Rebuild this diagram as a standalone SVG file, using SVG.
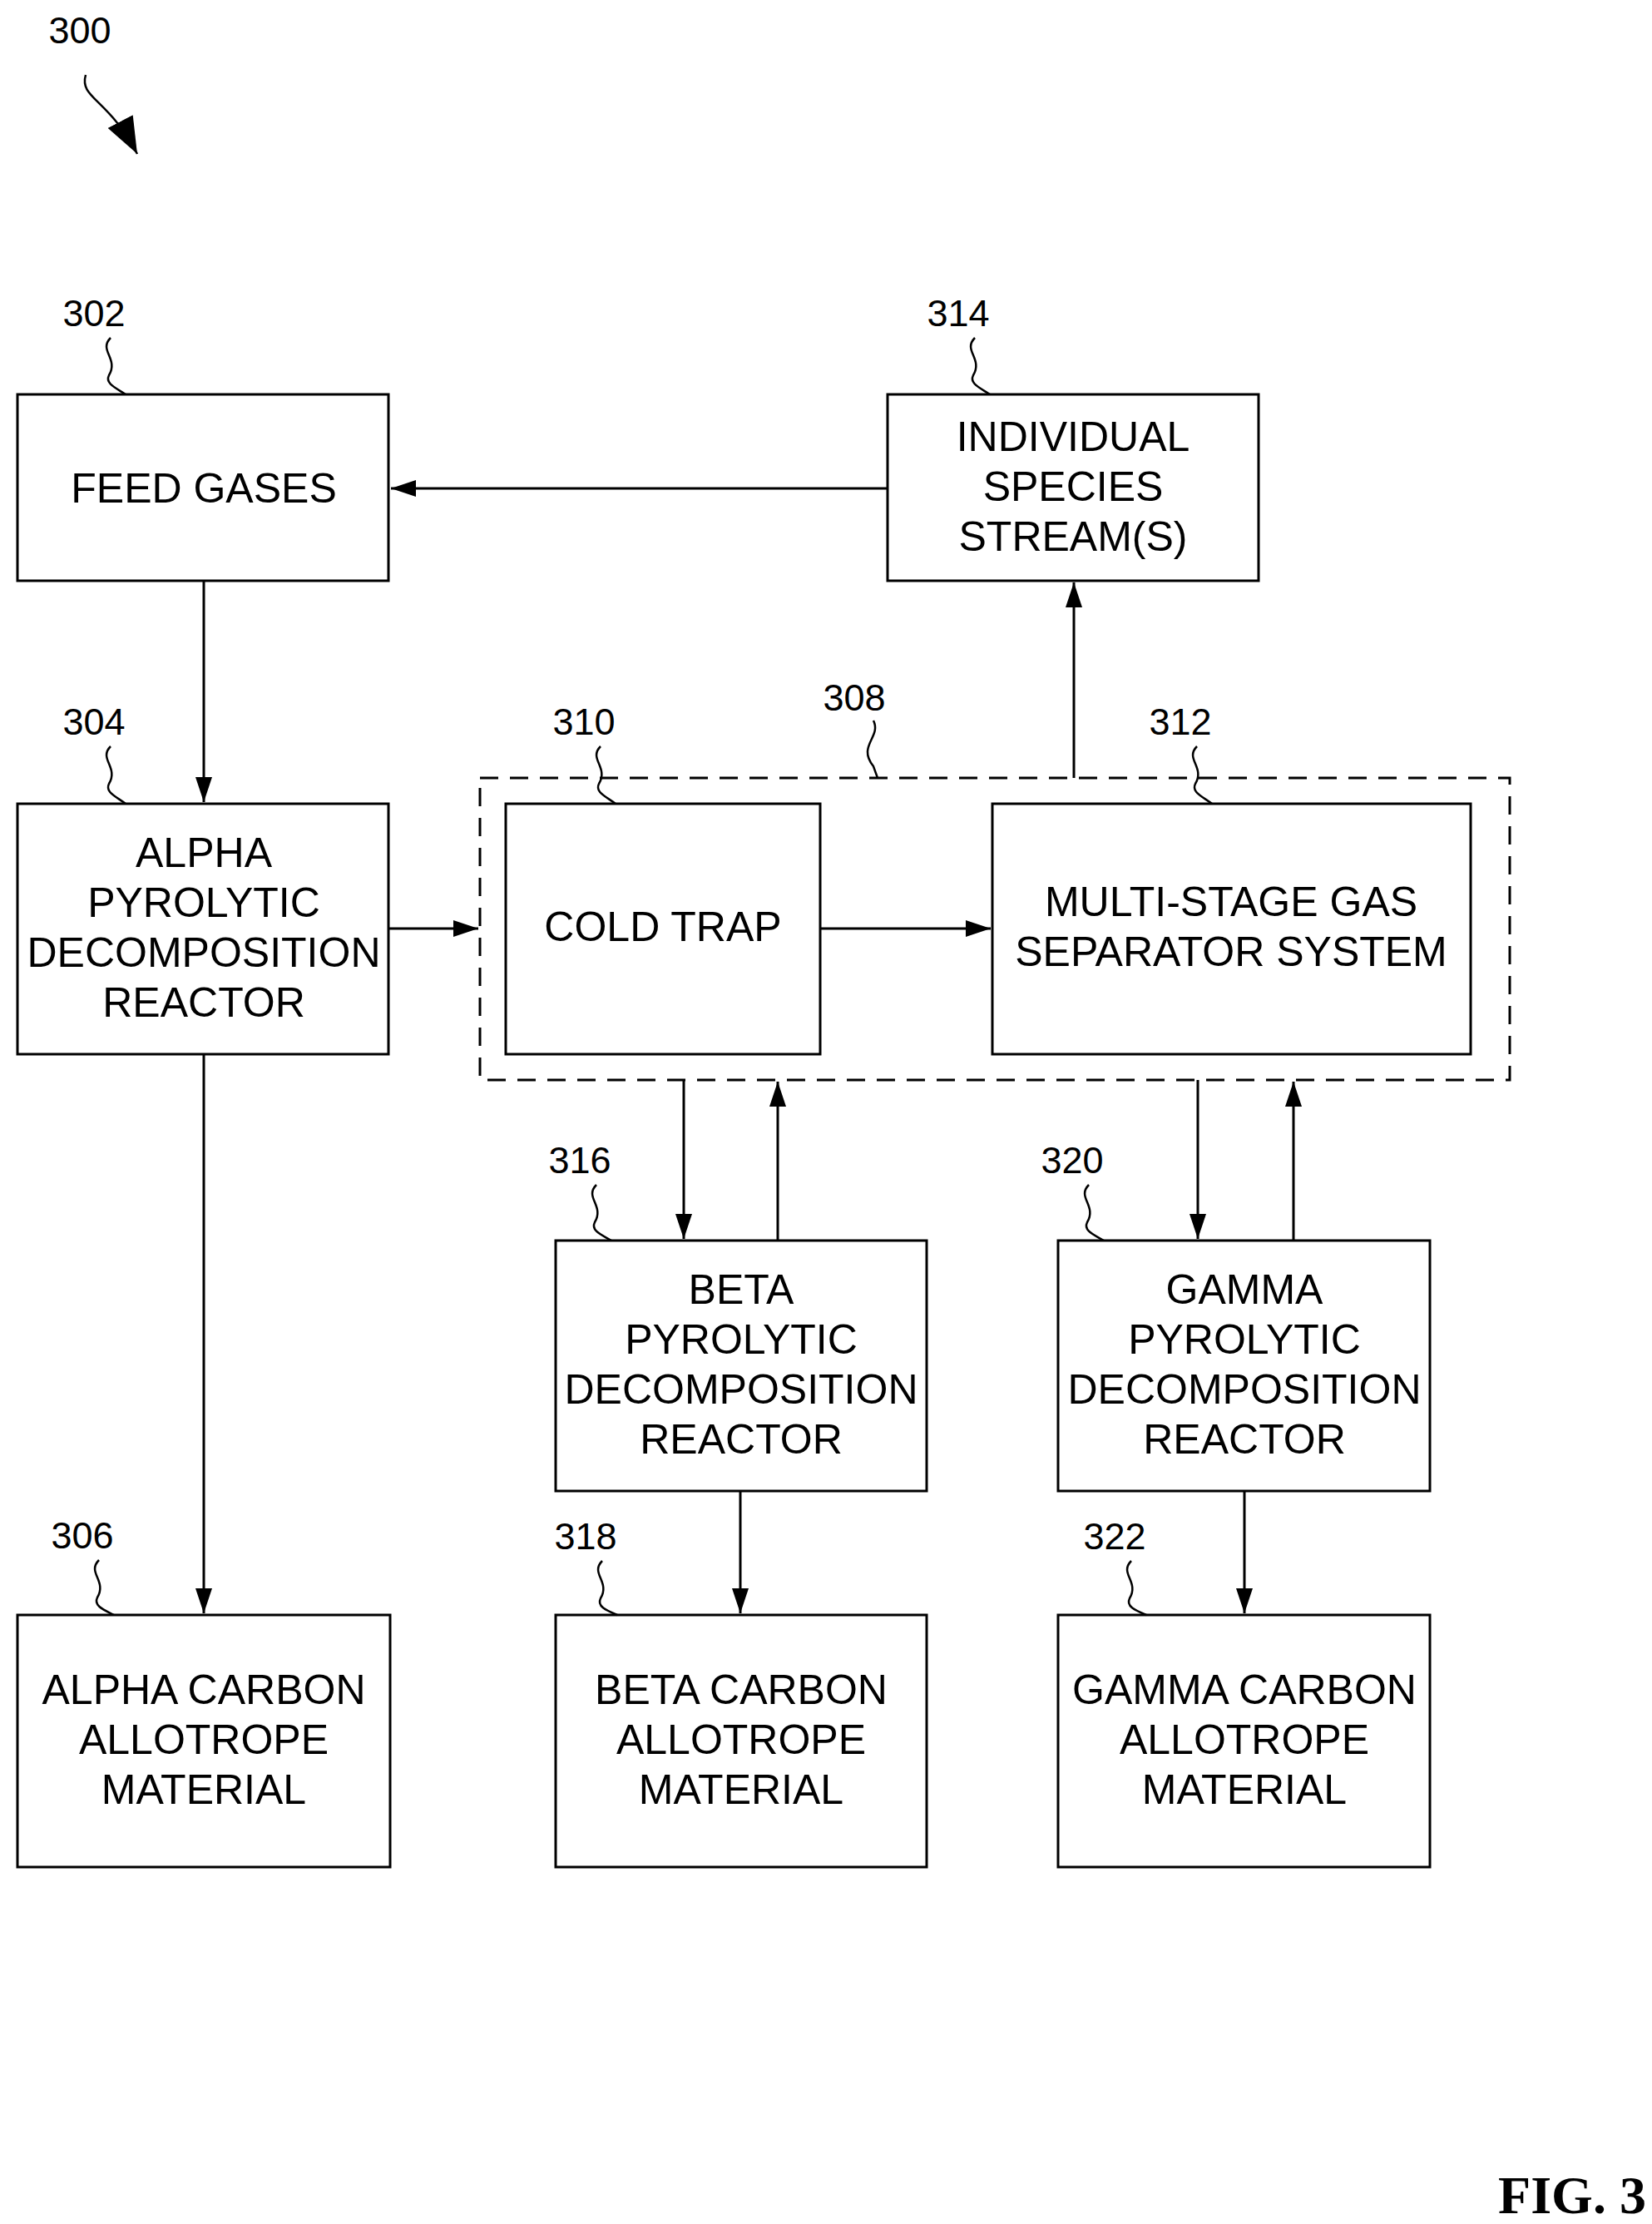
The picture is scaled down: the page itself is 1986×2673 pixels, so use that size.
<svg xmlns="http://www.w3.org/2000/svg" width="1986" height="2673" viewBox="0 0 1986 2673">
<style>
rect.b{fill:#fff;stroke:#000;stroke-width:3}
text{font-family:"Liberation Sans",Arial,sans-serif;font-size:50px;text-anchor:middle;fill:#000}
text.n{font-size:45px}
.c line,.c path{stroke:#000;stroke-width:3;fill:none}
.l{stroke:#000;stroke-width:2.5;fill:none}
</style>
<defs><marker id="ah" markerWidth="30" markerHeight="20" refX="30" refY="10" orient="auto" markerUnits="userSpaceOnUse" viewBox="0 0 30 20"><path d="M0,0L30,10L0,20z" fill="#000"/></marker>
<marker id="big" markerWidth="44" markerHeight="34" refX="44" refY="17" orient="auto" markerUnits="userSpaceOnUse" viewBox="0 0 44 34"><path d="M0,0L44,17L0,34z" fill="#000"/></marker></defs>
<rect width="1986" height="2673" fill="#fff"/>
<g id="fig"><text x="96" y="52" class="n">300</text><path class="l" d="M103,90 C95,118 130,118 165,185" marker-end="url(#big)"/>
<text x="1890" y="2660" style="font-family:'Liberation Serif',serif;font-weight:bold;font-size:64px">FIG. 3</text></g>
<g id="n302"><rect class="b" x="21" y="474" width="446" height="224"/><text x="245" y="604">FEED GASES</text><text class="n" x="113" y="392">302</text><path class="l" d="M133,406 c-15,15 10,25 -2,45 c-5,10 8,15 20,23"/></g>
<g id="n314"><rect class="b" x="1067" y="474" width="446" height="224"/><text x="1290" y="542">INDIVIDUAL</text><text x="1290" y="602">SPECIES</text><text x="1290" y="662">STREAM(S)</text><text class="n" x="1152" y="392">314</text><path class="l" d="M1172,406 c-15,15 10,25 -2,45 c-5,10 8,15 20,23"/></g>
<g id="n304"><rect class="b" x="21" y="966" width="446" height="301"/><text x="245" y="1042">ALPHA</text><text x="245" y="1102">PYROLYTIC</text><text x="245" y="1162">DECOMPOSITION</text><text x="245" y="1222">REACTOR</text><text class="n" x="113" y="883">304</text><path class="l" d="M133,897 c-15,15 10,25 -2,45 c-5,10 8,15 20,24"/></g>
<g id="n308"><rect x="577" y="935" width="1238" height="363" fill="none" stroke="#000" stroke-width="3" stroke-dasharray="22,14"/><text class="n" x="1027" y="854">308</text><path class="l" d="M1050,866 c10,20 -20,30 0,55 l5,14"/></g>
<g id="n310"><rect class="b" x="608" y="966" width="378" height="301"/><text x="797" y="1131">COLD TRAP</text><text class="n" x="702" y="883">310</text><path class="l" d="M722,897 c-15,15 10,25 -2,45 c-5,10 8,15 20,24"/></g>
<g id="n312"><rect class="b" x="1193" y="966" width="575" height="301"/><text x="1480" y="1101">MULTI-STAGE GAS</text><text x="1480" y="1161">SEPARATOR SYSTEM</text><text class="n" x="1419" y="883">312</text><path class="l" d="M1439,897 c-15,15 10,25 -2,45 c-5,10 8,15 20,24"/></g>
<g id="n316"><rect class="b" x="668" y="1491" width="446" height="301"/><text x="891" y="1567">BETA</text><text x="891" y="1627">PYROLYTIC</text><text x="891" y="1687">DECOMPOSITION</text><text x="891" y="1747">REACTOR</text><text class="n" x="697" y="1410">316</text><path class="l" d="M717,1424 c-15,15 10,25 -2,45 c-5,10 8,15 20,22"/></g>
<g id="n320"><rect class="b" x="1272" y="1491" width="447" height="301"/><text x="1496" y="1567">GAMMA</text><text x="1496" y="1627">PYROLYTIC</text><text x="1496" y="1687">DECOMPOSITION</text><text x="1496" y="1747">REACTOR</text><text class="n" x="1289" y="1410">320</text><path class="l" d="M1309,1424 c-15,15 10,25 -2,45 c-5,10 8,15 20,22"/></g>
<g id="n306"><rect class="b" x="21" y="1941" width="448" height="303"/><text x="245" y="2048">ALPHA CARBON</text><text x="245" y="2108">ALLOTROPE</text><text x="245" y="2168">MATERIAL</text><text class="n" x="99" y="1861">306</text><path class="l" d="M119,1875 c-15,15 10,25 -2,45 c-5,10 8,15 20,21"/></g>
<g id="n318"><rect class="b" x="668" y="1941" width="446" height="303"/><text x="891" y="2048">BETA CARBON</text><text x="891" y="2108">ALLOTROPE</text><text x="891" y="2168">MATERIAL</text><text class="n" x="704" y="1862">318</text><path class="l" d="M724,1876 c-15,15 10,25 -2,45 c-5,10 8,15 20,20"/></g>
<g id="n322"><rect class="b" x="1272" y="1941" width="447" height="303"/><text x="1496" y="2048">GAMMA CARBON</text><text x="1496" y="2108">ALLOTROPE</text><text x="1496" y="2168">MATERIAL</text><text class="n" x="1340" y="1862">322</text><path class="l" d="M1360,1876 c-15,15 10,25 -2,45 c-5,10 8,15 20,20"/></g>
<g id="connectors" class="c">
<line x1="1067" y1="587" x2="470" y2="587" marker-end="url(#ah)"/>
<line x1="245" y1="698" x2="245" y2="964" marker-end="url(#ah)"/>
<line x1="467" y1="1116" x2="575" y2="1116" marker-end="url(#ah)"/>
<line x1="986" y1="1116" x2="1191" y2="1116" marker-end="url(#ah)"/>
<line x1="1291" y1="935" x2="1291" y2="700" marker-end="url(#ah)"/>
<line x1="822" y1="1298" x2="822" y2="1489" marker-end="url(#ah)"/>
<line x1="935" y1="1491" x2="935" y2="1300" marker-end="url(#ah)"/>
<line x1="1440" y1="1298" x2="1440" y2="1489" marker-end="url(#ah)"/>
<line x1="1555" y1="1491" x2="1555" y2="1300" marker-end="url(#ah)"/>
<line x1="245" y1="1267" x2="245" y2="1939" marker-end="url(#ah)"/>
<line x1="890" y1="1792" x2="890" y2="1939" marker-end="url(#ah)"/>
<line x1="1496" y1="1792" x2="1496" y2="1939" marker-end="url(#ah)"/>
</g>
</svg>
